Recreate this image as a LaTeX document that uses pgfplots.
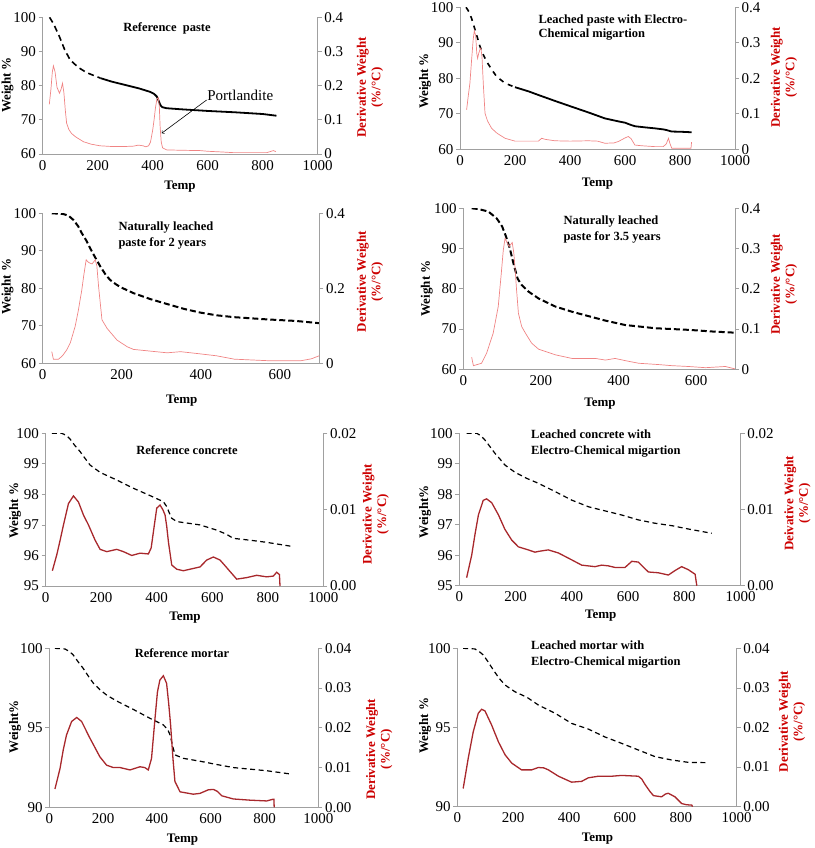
\documentclass[border=0pt]{standalone}
\usepackage{pgfplots}
\pgfplotsset{compat=1.18}
\usepackage{fontspec}
\setmainfont{Liberation Serif}
\definecolor{axgray}{HTML}{A0A0A0}
\definecolor{lred}{HTML}{F08484}
\definecolor{dred}{HTML}{A8282C}
\definecolor{lblred}{HTML}{CC0000}
\newcommand\tk{\fontsize{15}{16}\selectfont}
\newcommand\lb{\fontsize{13}{14.5}\selectfont\bfseries}
\newcommand\tf{\fontsize{12.5}{14}\selectfont\bfseries}
\pgfplotsset{
  base/.style={scale only axis, anchor=south west,
    axis line style={draw=axgray, line width=0.9pt},
    tick style={draw=axgray, line width=0.8pt}, major tick length=4pt, tick align=outside,
    ticklabel style={font=\tk}, /pgf/number format/assume math mode=true,
    /pgf/number format/1000 sep={}, minor tick num=0, scaled y ticks=false, scaled x ticks=false,
    xticklabel style={inner sep=2pt}, yticklabel style={inner sep=2.5pt}},
  L/.style={base, axis x line*=bottom, axis y line*=left, x tick style={draw=none}},
  R/.style={base, axis x line=none, axis y line*=right, xtick=\empty},
}
\begin{document}
\begin{tikzpicture}
\path[use as bounding box] (0pt,0pt) rectangle (814pt,-848pt);
% ---------------- Panel 1
\begin{axis}[L, at={(42.7pt,-154pt)}, width=275pt, height=136.7pt, xmin=0, xmax=1000, ymin=60, ymax=100, xtick={0,200,...,1000}, ytick={60,70,80,90,100}]
\addplot[black, line width=1.6pt, dash pattern=on 6pt off 4pt] coordinates {(25,100) (40,98) (60,94.5) (80,90.5) (100,87.5) (130,85.3) (160,83.8) (210,82.2)};
\addplot[black, line width=1.8pt] coordinates {(210,82.2) (250,81.2) (300,80.2) (350,79.2) (390,78.2) (405,77.6) (415,76.8) (422,75.5) (428,74.3) (435,73.7) (450,73.4) (500,73.1) (600,72.6) (700,72.2) (800,71.7) (850,71.2)};
\node[anchor=west, font=\tk] at (axis cs:586,77.3) {Portlandite};
\draw[->, line width=0.6pt] (axis cs:596,75.8) -- (axis cs:433,66.1);
\end{axis}
\begin{axis}[R, at={(42.7pt,-154pt)}, width=275pt, height=136.7pt, xmin=0, xmax=1000, ymin=0, ymax=0.4, ytick={0,0.1,0.2,0.3,0.4}, yticklabels={0,0.1,0.2,0.3,0.4}]
\addplot[lred, line width=0.7pt] coordinates {(24,0.145) (30,0.19) (35,0.24) (39,0.258) (45,0.24) (52,0.195) (61,0.178) (67,0.19) (72,0.207) (77,0.18) (82,0.13) (87,0.09) (95,0.072) (105,0.06) (120,0.05) (148,0.036) (175,0.029) (208,0.024) (250,0.022) (300,0.022) (330,0.023) (348,0.026) (365,0.024) (375,0.021) (385,0.024) (392,0.035) (400,0.07) (405,0.10) (410,0.135) (415,0.160) (420,0.165) (424,0.14) (427,0.08) (431,0.035) (436,0.018) (451,0.012) (500,0.011) (572,0.010) (600,0.008) (650,0.006) (693,0.004) (750,0.004) (815,0.004) (839,0.010) (848,0.007)};
\end{axis}
% ---------------- Panel 2
\begin{axis}[L, at={(460pt,-149.3pt)}, width=275pt, height=142pt, xmin=0, xmax=1000, ymin=60, ymax=100, xtick={0,200,...,1000}, ytick={60,70,80,90,100}]
\addplot[black, line width=1.6pt, dash pattern=on 5pt off 5pt] coordinates {(22,100) (32,98.8) (42,96.9) (55,93.6) (65,91) (73,88.9) (85,86.6) (97,84.7) (115,82.5) (133,80.5) (164,78.6) (200,77.5)};
\addplot[black, line width=1.8pt] coordinates {(200,77.5) (250,76.3) (285,75.3) (350,73.5) (406,72) (470,70.3) (527,68.7) (580,67.8) (600,67.5) (620,66.9) (636,66.5) (670,66.2) (709,65.9) (740,65.6) (752,65.4) (770,65.0) (800,64.95) (842,64.8)};
\end{axis}
\begin{axis}[R, at={(460pt,-149.3pt)}, width=275pt, height=142pt, xmin=0, xmax=1000, ymin=0, ymax=0.4, ytick={0,0.1,0.2,0.3,0.4}, yticklabels={0,0.1,0.2,0.3,0.4}]
\addplot[lred, line width=0.7pt] coordinates {(24,0.111) (30,0.15) (36,0.186) (42,0.25) (48,0.31) (52,0.334) (57,0.32) (61,0.27) (64,0.256) (68,0.27) (72,0.28) (76,0.285) (80,0.26) (85,0.18) (91,0.101) (100,0.08) (115,0.059) (135,0.045) (164,0.031) (200,0.023) (250,0.023) (285,0.023) (297,0.031) (310,0.028) (345,0.024) (400,0.023) (467,0.024) (500,0.023) (527,0.017) (560,0.018) (576,0.022) (600,0.032) (612,0.036) (622,0.03) (636,0.012) (660,0.01) (709,0.0075) (739,0.0075) (750,0.015) (758,0.031) (764,0.015) (770,0.003) (800,0.003) (840,0.003) (842,0.02)};
\end{axis}
% ---------------- Panel 3
\begin{axis}[L, at={(42.7pt,-363.3pt)}, width=276.6pt, height=150pt, xmin=0, xmax=700, ymin=60, ymax=100, xtick={0,200,400,600}, ytick={60,70,80,90,100}]
\addplot[black, line width=2pt, dash pattern=on 6pt off 3pt] coordinates {(23,100) (40,99.9) (52,99.8) (65,99.4) (78,98.2) (90,96.5) (99,94.7) (110,92.8) (120,90.7) (133,88.2) (146,85.8) (160,83.5) (171,82.2) (185,81.1) (197,80.3) (230,78.7) (273,77.1) (315,75.8) (358,74.5) (400,73.5) (440,72.8) (485,72.3) (569,71.7) (640,71.3) (700,70.7)};
\end{axis}
\begin{axis}[R, at={(42.7pt,-363.3pt)}, width=276.6pt, height=150pt, xmin=0, xmax=700, ymin=0, ymax=0.4, ytick={0,0.2,0.4}, yticklabels={0,0.2,0.4}]
\addplot[lred, line width=0.7pt] coordinates {(23,0.031) (27,0.011) (40,0.011) (50,0.02) (61,0.036) (70,0.055) (82,0.098) (90,0.14) (99,0.196) (104,0.235) (110,0.276) (115,0.27) (120,0.267) (125,0.265) (133,0.276) (137,0.26) (141.5,0.204) (150,0.116) (163,0.093) (188,0.062) (214,0.044) (230,0.037) (315,0.028) (349,0.031) (400,0.025) (440,0.02) (485,0.011) (569,0.007) (654,0.007) (680,0.012) (702,0.021)};
\end{axis}
% ---------------- Panel 4
\begin{axis}[L, at={(463.3pt,-369.3pt)}, width=271.7pt, height=161pt, xmin=0, xmax=700, ymin=60, ymax=100, xtick={0,200,400,600}, ytick={60,70,80,90,100}]
\addplot[black, line width=2pt, dash pattern=on 6pt off 3pt] coordinates {(21.5,100) (40,99.8) (64.5,99.2) (86,97.5) (100,95.5) (110,93) (120,90) (130,86) (140,82.5) (150,81) (168,79.3) (194,77.6) (237,75.6) (280,74.3) (366,72.1) (417,71) (495,70.2) (581,69.8) (640,69.4) (700,69.1)};
\end{axis}
\begin{axis}[R, at={(463.3pt,-369.3pt)}, width=271.7pt, height=161pt, xmin=0, xmax=700, ymin=0, ymax=0.4, ytick={0,0.1,0.2,0.3,0.4}, yticklabels={0,0.1,0.2,0.3,0.4}]
\addplot[lred, line width=0.7pt] coordinates {(21.5,0.03) (26,0.009) (47,0.015) (60,0.04) (77,0.09) (90,0.156) (98,0.24) (103,0.296) (107.5,0.325) (113,0.315) (118,0.305) (122,0.31) (126,0.315) (130,0.29) (133,0.255) (137,0.2) (142,0.139) (150.5,0.106) (160,0.09) (176,0.065) (194,0.05) (237,0.036) (280,0.027) (340,0.027) (366,0.023) (391,0.027) (420,0.021) (452,0.015) (500,0.012) (538,0.009) (580,0.007) (624,0.004) (675,0.007) (700,0.001)};
\end{axis}
% ---------------- Panel 5
\begin{axis}[L, at={(45.7pt,-586pt)}, width=277.6pt, height=152.7pt, xmin=0, xmax=1000, ymin=95, ymax=100, xtick={0,200,...,1000}, ytick={95,96,97,98,99,100}]
\addplot[black, line width=1.2pt, dash pattern=on 5pt off 3.5pt] coordinates {(22,100) (58,100) (75,99.93) (88,99.81) (105,99.6) (124,99.4) (140,99.2) (160,98.96) (196,98.72) (256,98.47) (316,98.2) (376,97.96) (424,97.76) (436,97.6) (445,97.4) (454,97.22) (472,97.11) (556,97.0) (616,96.83) (650,96.7) (676,96.56) (736,96.5) (796,96.43) (892,96.29)};
\end{axis}
\begin{axis}[R, at={(45.7pt,-586pt)}, width=277.6pt, height=152.7pt, xmin=0, xmax=1000, ymin=0, ymax=0.02, ytick={0,0.01,0.02}, yticklabels={0.00,0.01,0.02}]
\addplot[dred, line width=1.3pt] coordinates {(24,0.0020) (40,0.0041) (52,0.006) (64,0.0080) (82,0.0108) (100,0.0118) (118,0.0110) (136,0.0093) (154,0.0080) (178,0.0060) (196,0.0048) (220,0.0045) (256,0.0048) (280,0.0045) (310,0.0040) (340,0.0043) (370,0.0042) (380,0.0050) (388,0.0071) (400,0.0102) (412,0.0106) (422,0.0100) (430,0.0093) (436,0.0078) (442,0.0058) (454,0.00275) (472,0.0022) (496,0.0020) (532,0.0023) (556,0.0025) (580,0.0034) (604,0.0038) (628,0.0034) (645,0.0027) (664,0.0019) (688,0.0009) (724,0.0011) (760,0.0014) (796,0.0012) (820,0.0013) (832,0.0018) (842,0.0015) (844,0)};
\end{axis}
% ---------------- Panel 6
\begin{axis}[L, at={(459.3pt,-585.7pt)}, width=281.4pt, height=152.4pt, xmin=0, xmax=1000, ymin=95, ymax=100, xtick={0,200,...,1000}, ytick={95,96,97,98,99,100}]
\addplot[black, line width=1.2pt, dash pattern=on 5pt off 3.5pt] coordinates {(26,100) (62,100) (75,99.93) (91,99.78) (110,99.55) (127,99.34) (145,99.15) (162,98.96) (198,98.72) (240,98.52) (281,98.36) (340,98.09) (399,97.81) (459,97.59) (520,97.45) (577,97.32) (636,97.16) (695,97.05) (755,96.97) (814,96.86) (897,96.72)};
\end{axis}
\begin{axis}[R, at={(459.3pt,-585.7pt)}, width=281.4pt, height=152.4pt, xmin=0, xmax=1000, ymin=0, ymax=0.02, ytick={0,0.01,0.02}, yticklabels={0.00,0.01,0.02}]
\addplot[dred, line width=1.3pt] coordinates {(26,0.00105) (44,0.0040) (56,0.0068) (68,0.0093) (85,0.0112) (97,0.0114) (115,0.0109) (139,0.0093) (162,0.0074) (186,0.0060) (210,0.0051) (245,0.0047) (269,0.0044) (281,0.0045) (316,0.0047) (352,0.0043) (399,0.0034) (435,0.0027) (482,0.0025) (506,0.0027) (530,0.0026) (553,0.0024) (589,0.0024) (613,0.0032) (636,0.0031) (655,0.0024) (672,0.0018) (707,0.0017) (743,0.0014) (767,0.0020) (790,0.0025) (814,0.0021) (838,0.0015) (844,0)};
\end{axis}
% ---------------- Panel 7
\begin{axis}[L, at={(49.3pt,-807.3pt)}, width=269pt, height=159pt, xmin=0, xmax=1000, ymin=90, ymax=100, xtick={0,200,...,1000}, ytick={90,95,100}]
\addplot[black, line width=1.2pt, dash pattern=on 5pt off 3.5pt] coordinates {(21,100) (58,99.96) (75,99.8) (89,99.58) (105,99.2) (126,98.74) (145,98.25) (164,97.8) (188,97.4) (213,97.06) (250,96.69) (312,96.16) (374,95.6) (424,95.18) (440,94.9) (449,94.55) (458,93.9) (467,93.3) (498,93.08) (560,92.9) (620,92.7) (684,92.5) (808,92.3) (895,92.1)};
\end{axis}
\begin{axis}[R, at={(49.3pt,-807.3pt)}, width=269pt, height=159pt, xmin=0, xmax=1000, ymin=0, ymax=0.04, ytick={0,0.01,0.02,0.03,0.04}, yticklabels={0.00,0.01,0.02,0.03,0.04}]
\addplot[dred, line width=1.3pt] coordinates {(21,0.0046) (40,0.0098) (52,0.0145) (64,0.0182) (83,0.0216) (102,0.0226) (120,0.0216) (151,0.0174) (188,0.0127) (213,0.0106) (238,0.0100) (263,0.0100) (300,0.0094) (337,0.0102) (355,0.0100) (368,0.0094) (380,0.0123) (393,0.0224) (402,0.0290) (411,0.0320) (424,0.0331) (436,0.0312) (444,0.026) (451,0.0207) (460,0.012) (467,0.0065) (486,0.0039) (535,0.0033) (560,0.0035) (591,0.0044) (610,0.0045) (625,0.0040) (641,0.0029) (684,0.0021) (746,0.0018) (808,0.0016) (830,0.0020) (835,0.0020) (836,0)};
\end{axis}
% ---------------- Panel 8
\begin{axis}[L, at={(457.3pt,-806.7pt)}, width=279.4pt, height=158.4pt, xmin=0, xmax=1000, ymin=90, ymax=100, xtick={0,200,...,1000}, ytick={90,95,100}]
\addplot[black, line width=1.2pt, dash pattern=on 5pt off 3.5pt] coordinates {(21,100) (63,99.96) (78,99.8) (93,99.58) (110,99.15) (129,98.63) (150,98.1) (171,97.68) (206,97.26) (250,96.9) (290,96.42) (350,95.9) (409,95.26) (469,94.9) (529,94.4) (588,94.0) (648,93.58) (708,93.16) (767,92.95) (827,92.8) (893,92.78)};
\end{axis}
\begin{axis}[R, at={(457.3pt,-806.7pt)}, width=279.4pt, height=158.4pt, xmin=0, xmax=1000, ymin=0, ymax=0.04, ytick={0,0.01,0.02,0.03,0.04}, yticklabels={0.00,0.01,0.02,0.03,0.04}]
\addplot[dred, line width=1.3pt] coordinates {(21,0.0046) (39,0.0122) (57,0.0189) (75,0.0236) (87,0.0246) (99,0.0242) (123,0.0206) (147,0.0164) (171,0.0131) (195,0.0110) (230,0.0093) (266,0.0093) (290,0.0099) (310,0.0098) (326,0.0093) (362,0.0077) (409,0.0062) (445,0.0064) (469,0.0073) (505,0.0077) (553,0.0077) (588,0.0079) (648,0.0077) (660,0.0070) (672,0.0056) (690,0.0038) (702,0.0028) (731,0.0025) (745,0.0032) (755,0.0034) (779,0.0025) (803,0.0008) (820,0.0005) (839,0.0004) (842,0)};
\end{axis}
% ---------------- Text: titles
\node[font=\tf, anchor=base] at (167pt,-32pt) {Reference\ \ paste};
\node[font=\tf, anchor=base west] at (535pt,-24pt) {Leached paste with Electro-};
\node[font=\tf, anchor=base west] at (535pt,-38pt) {Chemical migartion};
\node[font=\tf, anchor=base west] at (115pt,-230pt) {Naturally leached};
\node[font=\tf, anchor=base west] at (115pt,-246.5pt) {paste for 2 years};
\node[font=\tf, anchor=base west] at (560pt,-224.5pt) {Naturally leached};
\node[font=\tf, anchor=base west] at (560pt,-240pt) {paste for 3.5 years};
\node[font=\tf, anchor=base] at (187pt,-454.5pt) {Reference concrete};
\node[font=\tf, anchor=base west] at (527.7pt,-438.5pt) {Leached concrete with};
\node[font=\tf, anchor=base west] at (527.7pt,-454.5pt) {Electro-Chemical migartion};
\node[font=\tf, anchor=base] at (182pt,-657pt) {Reference mortar};
\node[font=\tf, anchor=base west] at (527.7pt,-649.5pt) {Leached mortar with};
\node[font=\tf, anchor=base west] at (527.7pt,-665pt) {Electro-Chemical migartion};
% ---------------- Text: left axis labels
\node[font=\lb, rotate=90] at (7.5pt,-85pt) {Weight \%};
\node[font=\lb, rotate=90] at (425pt,-81pt) {Weight \%};
\node[font=\lb, rotate=90] at (7.5pt,-286.7pt) {Weight \%};
\node[font=\lb, rotate=90] at (426.7pt,-288.3pt) {Weight \%};
\node[font=\lb, rotate=90] at (15pt,-510.8pt) {Weight \%};
\node[font=\lb, rotate=90] at (425pt,-511.7pt) {Weight\%};
\node[font=\lb, rotate=90] at (15pt,-726.7pt) {Weight\%};
\node[font=\lb, rotate=90] at (425pt,-725.8pt) {Weight \%};
% ---------------- Text: x labels
\node[font=\lb] at (180pt,-186.7pt) {Temp};
\node[font=\lb] at (597.5pt,-184pt) {Temp};
\node[font=\lb] at (181.7pt,-400.8pt) {Temp};
\node[font=\lb] at (600pt,-404pt) {Temp};
\node[font=\lb] at (185pt,-617.5pt) {Temp};
\node[font=\lb] at (600.8pt,-615.8pt) {Temp};
\node[font=\lb] at (182.5pt,-840pt) {Temp};
\node[font=\lb] at (597.5pt,-839pt) {Temp};
% ---------------- Text: right axis labels
\node[font=\lb, text=lblred, rotate=90, align=center] at (370pt,-87.5pt) {Derivative Weight\\(\%/°C)};
\node[font=\lb, text=lblred, rotate=90, align=center] at (784pt,-77.5pt) {Derivative Weight\\(\%/°C)};
\node[font=\lb, text=lblred, rotate=90, align=center] at (370pt,-281.7pt) {Derivative Weight\\(\%/°C)};
\node[font=\lb, text=lblred, rotate=90, align=center] at (784pt,-284.2pt) {Derivative Weight\\(\%/°C)};
\node[font=\lb, text=lblred, rotate=90, align=center] at (375.8pt,-514.2pt) {Derivative Weight\\(\%/°C)};
\node[font=\lb, text=lblred, rotate=90, align=center] at (797.5pt,-503.3pt) {Deivative Weight\\(\%/°C)};
\node[font=\lb, text=lblred, rotate=90, align=center] at (379.2pt,-749.2pt) {Derivative Weight\\(\%/°C)};
\node[font=\lb, text=lblred, rotate=90, align=center] at (792pt,-721.7pt) {Derivative Weight\\(\%/°C)};
\end{tikzpicture}
\end{document}
